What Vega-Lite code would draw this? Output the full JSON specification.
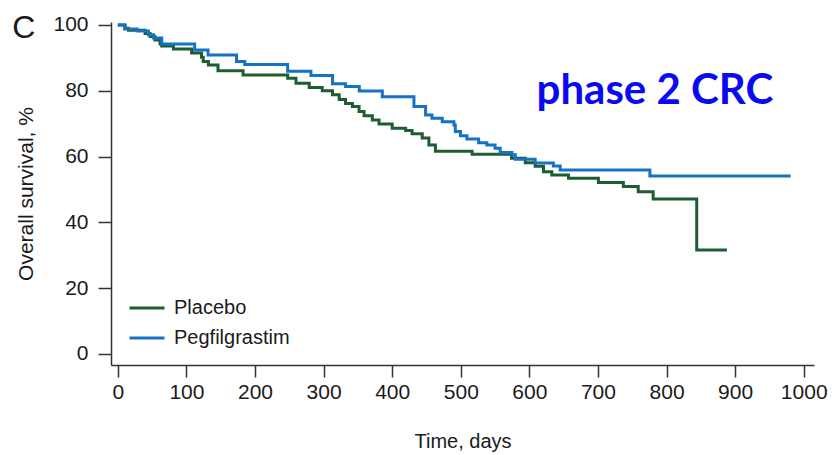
{
  "$schema": "https://vega.github.io/schema/vega-lite/v6.json",
  "width": 703,
  "height": 343,
  "autosize": {"type": "none"},
  "padding": {"left": 111, "top": 22, "right": 23, "bottom": 90},
  "background": "white",
  "config": {"view": {"stroke": null}, "font": "Liberation Sans"},
  "layer": [
    {
      "data": {"values": [
        {"t": 0, "S": 100, "arm": "Placebo"},
        {"t": 10.6, "S": 99, "arm": "Placebo"},
        {"t": 15.5, "S": 98.4, "arm": "Placebo"},
        {"t": 39.7, "S": 97.4, "arm": "Placebo"},
        {"t": 47, "S": 96.5, "arm": "Placebo"},
        {"t": 54, "S": 95.4, "arm": "Placebo"},
        {"t": 61.5, "S": 94.2, "arm": "Placebo"},
        {"t": 64, "S": 93.6, "arm": "Placebo"},
        {"t": 81, "S": 92.7, "arm": "Placebo"},
        {"t": 107.6, "S": 91.5, "arm": "Placebo"},
        {"t": 122, "S": 90.2, "arm": "Placebo"},
        {"t": 124.5, "S": 88.9, "arm": "Placebo"},
        {"t": 132, "S": 87.8, "arm": "Placebo"},
        {"t": 146, "S": 86.1, "arm": "Placebo"},
        {"t": 182.6, "S": 84.8, "arm": "Placebo"},
        {"t": 247.6, "S": 83.8, "arm": "Placebo"},
        {"t": 259.7, "S": 82.3, "arm": "Placebo"},
        {"t": 279, "S": 81, "arm": "Placebo"},
        {"t": 298, "S": 80, "arm": "Placebo"},
        {"t": 313, "S": 78.8, "arm": "Placebo"},
        {"t": 322.7, "S": 77.3, "arm": "Placebo"},
        {"t": 332, "S": 76.1, "arm": "Placebo"},
        {"t": 342, "S": 75.2, "arm": "Placebo"},
        {"t": 351.7, "S": 73.7, "arm": "Placebo"},
        {"t": 359, "S": 72.4, "arm": "Placebo"},
        {"t": 371, "S": 71.1, "arm": "Placebo"},
        {"t": 380.8, "S": 69.9, "arm": "Placebo"},
        {"t": 400, "S": 68.6, "arm": "Placebo"},
        {"t": 419.6, "S": 67.9, "arm": "Placebo"},
        {"t": 429, "S": 66.9, "arm": "Placebo"},
        {"t": 443.8, "S": 65.6, "arm": "Placebo"},
        {"t": 453.5, "S": 63.5, "arm": "Placebo"},
        {"t": 463, "S": 61.6, "arm": "Placebo"},
        {"t": 516.5, "S": 60.7, "arm": "Placebo"},
        {"t": 574, "S": 59.5, "arm": "Placebo"},
        {"t": 594, "S": 58.1, "arm": "Placebo"},
        {"t": 608.5, "S": 57, "arm": "Placebo"},
        {"t": 620.6, "S": 55.4, "arm": "Placebo"},
        {"t": 632.7, "S": 54.4, "arm": "Placebo"},
        {"t": 657, "S": 53.4, "arm": "Placebo"},
        {"t": 700.6, "S": 52.1, "arm": "Placebo"},
        {"t": 737, "S": 50.9, "arm": "Placebo"},
        {"t": 758.7, "S": 49.3, "arm": "Placebo"},
        {"t": 780.5, "S": 47.1, "arm": "Placebo"},
        {"t": 844, "S": 31.6, "arm": "Placebo"},
        {"t": 888, "S": 31.6, "arm": "Placebo"},
        {"t": 0, "S": 100, "arm": "Pegfilgrastim"},
        {"t": 10, "S": 98.8, "arm": "Pegfilgrastim"},
        {"t": 28, "S": 98.2, "arm": "Pegfilgrastim"},
        {"t": 44.6, "S": 97, "arm": "Pegfilgrastim"},
        {"t": 52, "S": 96, "arm": "Pegfilgrastim"},
        {"t": 64, "S": 94.2, "arm": "Pegfilgrastim"},
        {"t": 112, "S": 92.4, "arm": "Pegfilgrastim"},
        {"t": 131.5, "S": 90.9, "arm": "Pegfilgrastim"},
        {"t": 173, "S": 88.9, "arm": "Pegfilgrastim"},
        {"t": 185, "S": 88, "arm": "Pegfilgrastim"},
        {"t": 247.5, "S": 85.9, "arm": "Pegfilgrastim"},
        {"t": 281.5, "S": 84.6, "arm": "Pegfilgrastim"},
        {"t": 313, "S": 82.1, "arm": "Pegfilgrastim"},
        {"t": 332, "S": 81.3, "arm": "Pegfilgrastim"},
        {"t": 352, "S": 79.9, "arm": "Pegfilgrastim"},
        {"t": 385.6, "S": 78.2, "arm": "Pegfilgrastim"},
        {"t": 431.7, "S": 75.2, "arm": "Pegfilgrastim"},
        {"t": 448.7, "S": 72.6, "arm": "Pegfilgrastim"},
        {"t": 458, "S": 71.6, "arm": "Pegfilgrastim"},
        {"t": 473, "S": 70.6, "arm": "Pegfilgrastim"},
        {"t": 490, "S": 69.6, "arm": "Pegfilgrastim"},
        {"t": 492, "S": 67.6, "arm": "Pegfilgrastim"},
        {"t": 499.5, "S": 66.3, "arm": "Pegfilgrastim"},
        {"t": 509, "S": 65.3, "arm": "Pegfilgrastim"},
        {"t": 526, "S": 64.2, "arm": "Pegfilgrastim"},
        {"t": 538, "S": 63.5, "arm": "Pegfilgrastim"},
        {"t": 550, "S": 62.5, "arm": "Pegfilgrastim"},
        {"t": 557.5, "S": 61.2, "arm": "Pegfilgrastim"},
        {"t": 574.6, "S": 60.5, "arm": "Pegfilgrastim"},
        {"t": 579.5, "S": 59.2, "arm": "Pegfilgrastim"},
        {"t": 608.5, "S": 58, "arm": "Pegfilgrastim"},
        {"t": 635, "S": 57.1, "arm": "Pegfilgrastim"},
        {"t": 645, "S": 55.9, "arm": "Pegfilgrastim"},
        {"t": 775.7, "S": 54.1, "arm": "Pegfilgrastim"},
        {"t": 981, "S": 54.1, "arm": "Pegfilgrastim"}
      ]},
      "mark": {"type": "line", "interpolate": "step-after", "strokeWidth": 3},
      "encoding": {
        "x": {"field": "t", "type": "quantitative",
          "scale": {"domain": [-10, 1015], "nice": false, "zero": false},
          "axis": {"values": [0, 100, 200, 300, 400, 500, 600, 700, 800, 900, 1000], "format": "d", "title": "Time, days", "grid": false,
            "labelFontSize": 21, "titleFontSize": 20, "titleFontWeight": "normal", "tickSize": 12, "labelPadding": 4, "titlePadding": 29,
            "domainColor": "#333333", "tickColor": "#333333", "domainWidth": 1.5, "tickWidth": 1.5, "labelColor": "#1a1a1a", "titleColor": "#1a1a1a", "labelFlush": false}},
        "y": {"field": "S", "type": "quantitative",
          "scale": {"domain": [-3.4, 100.9], "nice": false, "zero": false},
          "axis": {"values": [0, 20, 40, 60, 80, 100], "title": "Overall survival, %", "grid": false,
            "labelFontSize": 21, "titleFontSize": 21, "titleFontWeight": "normal", "tickSize": 13, "labelPadding": 10, "titlePadding": 16,
            "domainColor": "#333333", "tickColor": "#333333", "domainWidth": 1.5, "tickWidth": 1.5, "labelColor": "#1a1a1a", "titleColor": "#1a1a1a", "labelFlush": false}},
        "color": {"field": "arm", "type": "nominal",
          "scale": {"domain": ["Placebo", "Pegfilgrastim"], "range": ["#1e5c32", "#1672c4"]},
          "legend": {"orient": "bottom-left", "title": null, "symbolType": "stroke", "symbolSize": 1225, "symbolStrokeWidth": 3,
            "labelFontSize": 20, "labelOffset": 8, "rowPadding": 1, "offset": 17, "padding": 0, "labelColor": "#1a1a1a"}}
      }
    },
    {
      "data": {"values": [{"t": 783, "S": 76, "label": "phase 2 CRC"}]},
      "mark": {"type": "text", "font": "Lato", "fontWeight": "bold", "fontSize": 42, "color": "#0a0af0", "align": "center", "baseline": "alphabetic"},
      "encoding": {
        "x": {"field": "t", "type": "quantitative"},
        "y": {"field": "S", "type": "quantitative"},
        "text": {"field": "label"}
      }
    },
    {
      "data": {"values": [{"t": -137, "S": 96, "label": "C"}]},
      "mark": {"type": "text", "font": "Liberation Sans", "fontSize": 32, "color": "#1a1a1a", "align": "center", "baseline": "alphabetic", "clip": false},
      "encoding": {
        "x": {"field": "t", "type": "quantitative"},
        "y": {"field": "S", "type": "quantitative"},
        "text": {"field": "label"}
      }
    }
  ]
}
